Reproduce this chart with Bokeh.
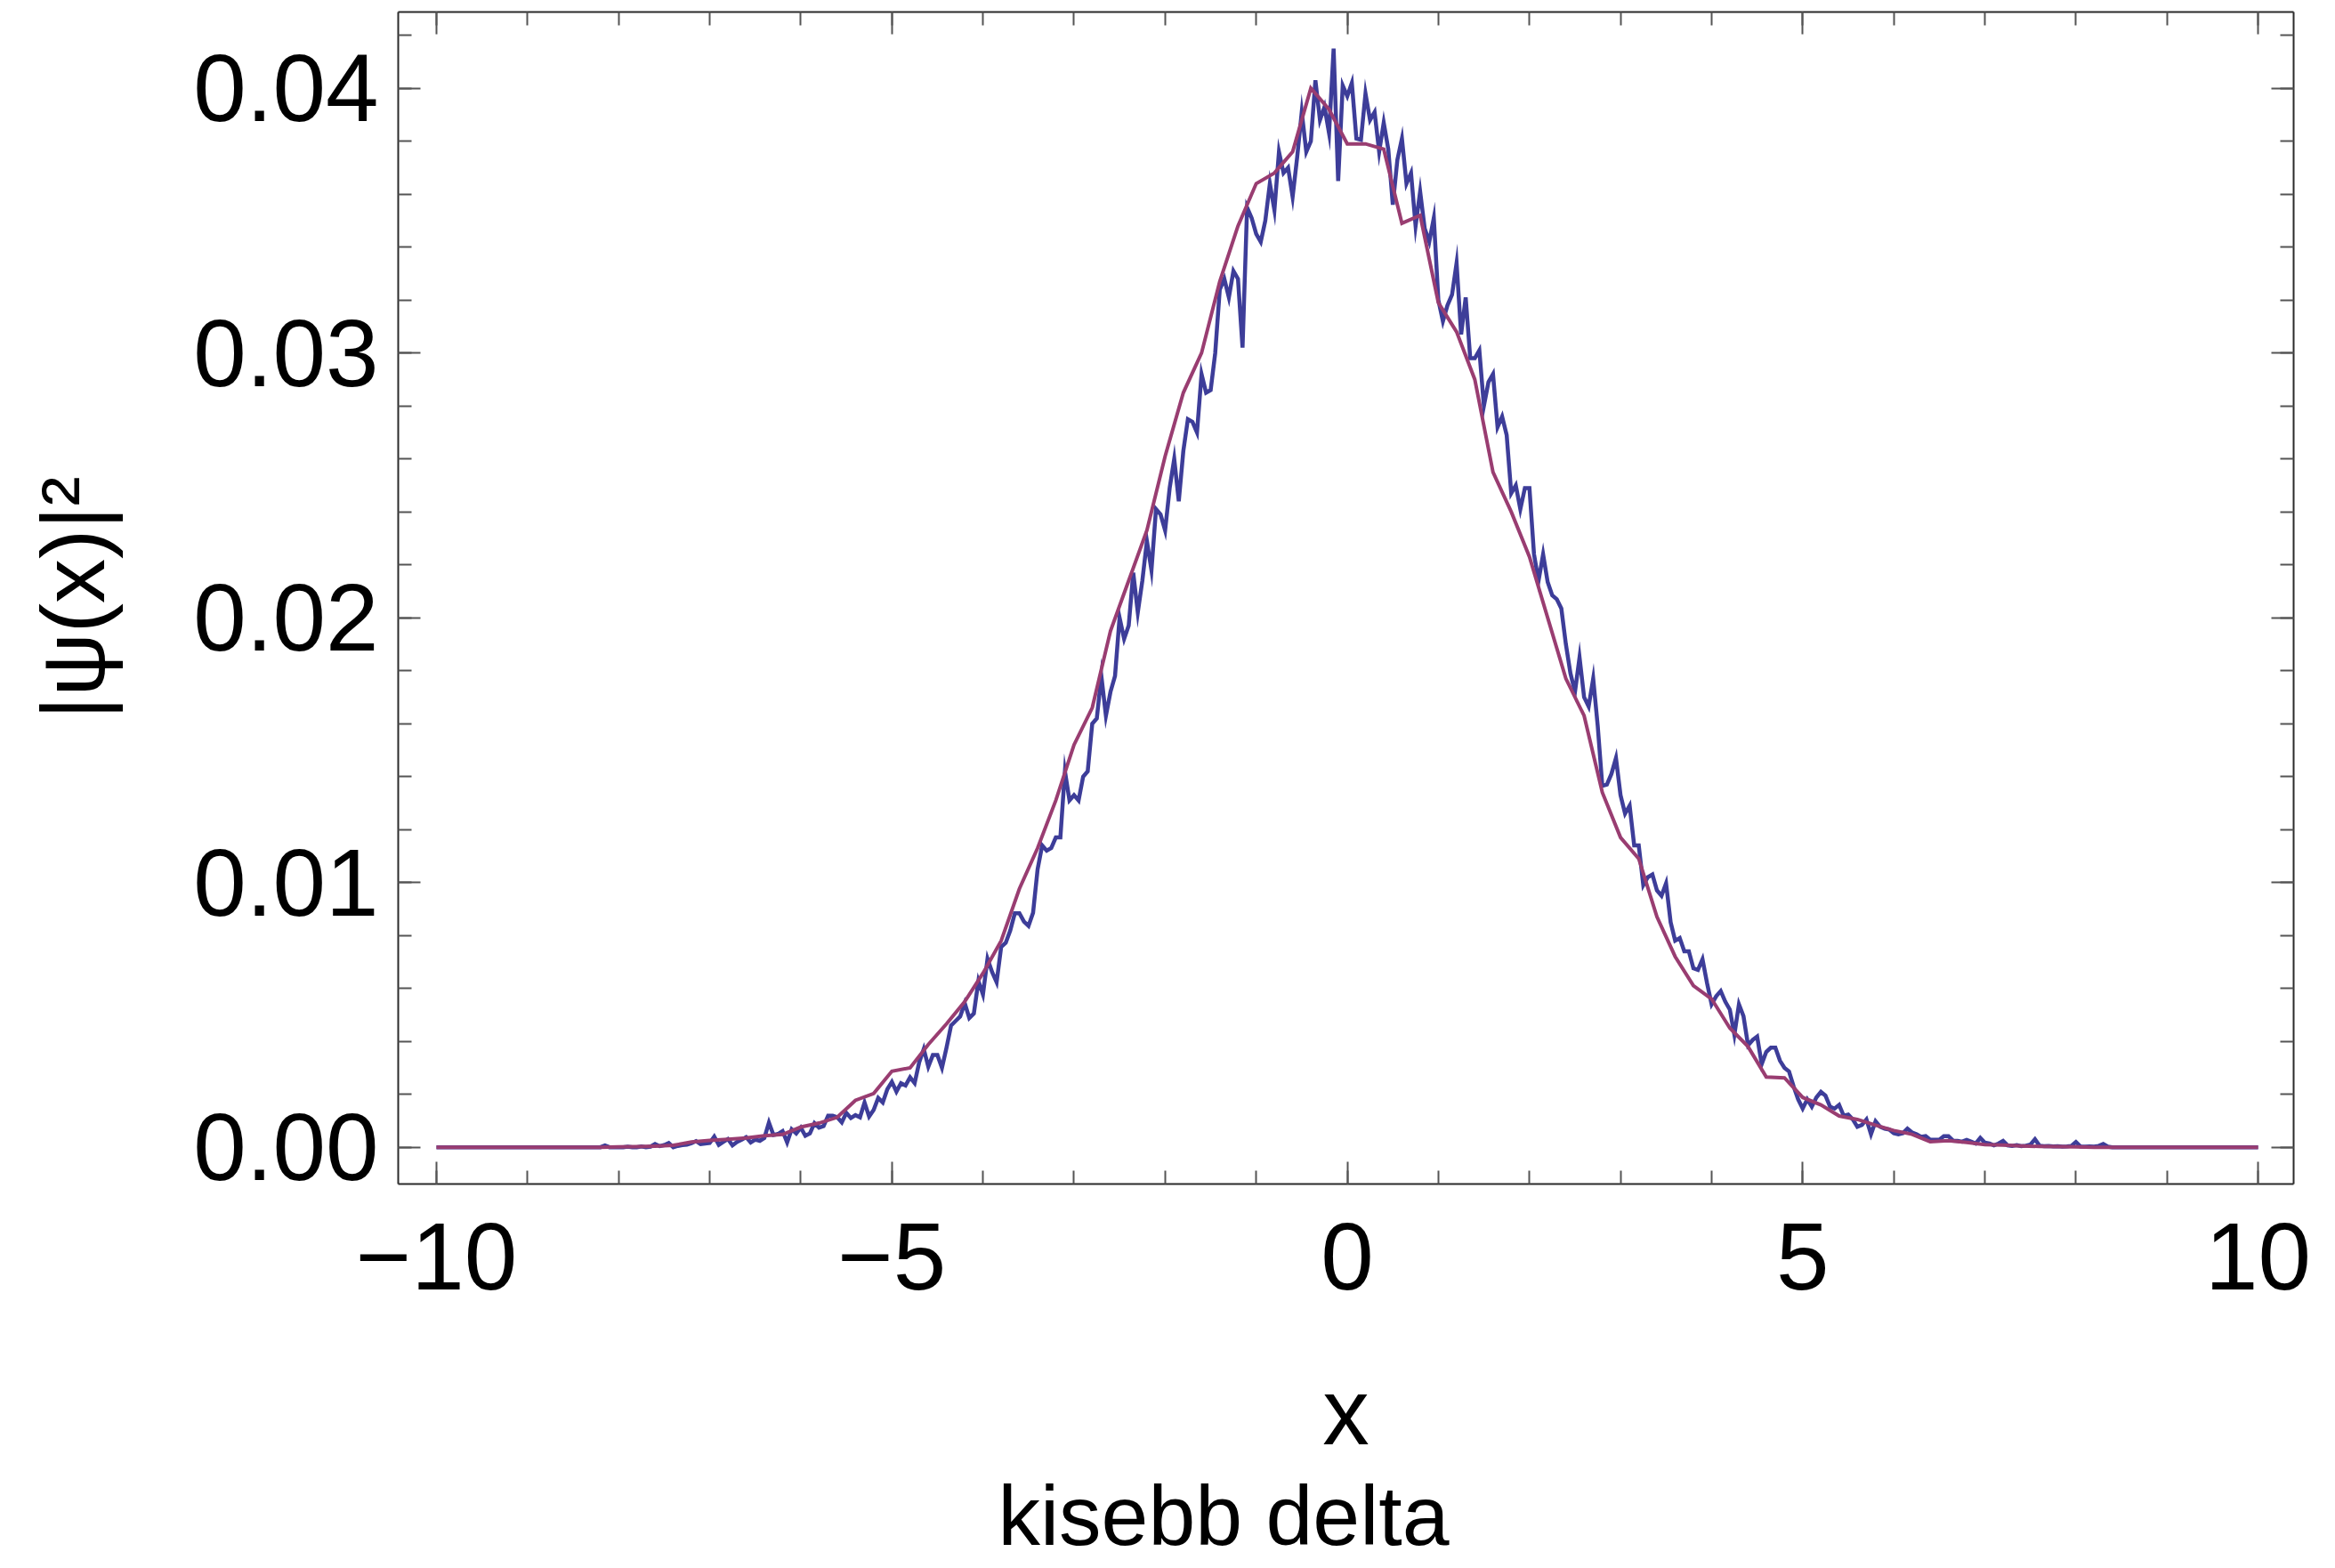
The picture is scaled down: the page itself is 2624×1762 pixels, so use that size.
from bokeh.plotting import figure
from bokeh.models import (Range1d, LinearAxis, FixedTicker, NumeralTickFormatter,
                          CustomJSTickFormatter, Title)
from bokeh.embed import file_html
from bokeh.resources import INLINE

# ---------------- data ----------------
# blue: sampled histogram-like curve, step 0.05 from -10 to 10 (values in units of 1e-3)
blue_x_start = -10.0
blue_x_step = 0.05
blue_e3 = [
    # -10.00 .. -9.05
    0, 0, 0, 0, 0, 0, 0, 0, 0, 0, 0, 0, 0, 0, 0, 0, 0, 0, 0, 0,
    # -9.00 .. -8.05
    0, 0, 0, 0, 0, 0, 0, 0, 0, 0, 0, 0, 0, 0, 0, 0, 0, 0.07, 0, 0,
    # -8.00 .. -7.05
    0, 0, 0.02, 0, 0, 0.03, 0, 0.02, 0.12, 0.04, 0.08, 0.16, 0.0, 0.05, 0.08, 0.10, 0.15, 0.23, 0.12, 0.14,
    # -7.00 .. -6.05
    0.16, 0.40, 0.09, 0.20, 0.31, 0.07, 0.20, 0.28, 0.38, 0.18, 0.29, 0.24, 0.35, 0.93, 0.46, 0.50, 0.61, 0.18, 0.68, 0.52,
    # -6.00 .. -5.05
    0.74, 0.43, 0.52, 0.91, 0.74, 0.80, 1.19, 1.19, 1.13, 0.94, 1.30, 1.10, 1.21, 1.13, 1.69, 1.16, 1.41, 1.86, 1.69, 2.19,
    # -5.00 .. -4.05
    2.47, 2.10, 2.42, 2.33, 2.64, 2.42, 3.21, 3.71, 3.04, 3.48, 3.48, 3.00, 3.76, 4.60, 4.77, 4.94, 5.44, 4.88, 5.05, 6.28,
    # -4.00 .. -3.05
    5.77, 7.12, 6.62, 6.23, 7.57, 7.72, 8.19, 8.84, 8.84, 8.52, 8.36, 8.85, 10.5, 11.4, 11.2, 11.3, 11.7, 11.7, 14.2, 13.1,
    # -3.00 .. -2.05
    13.3, 13.1, 14.0, 14.2, 16.0, 16.2, 17.8, 16.3, 17.2, 17.8, 20.0, 19.2, 19.7, 21.7, 20.2, 21.4, 22.9, 21.8, 24.1, 23.9,
    # -2.00 .. -1.05
    23.3, 24.9, 26.0, 24.4, 26.3, 27.5, 27.4, 27.0, 29.2, 28.5, 28.6, 30.0, 32.4, 32.8, 32.1, 33.1, 32.8, 30.2, 35.5, 35.1,
    # -1.00 .. -0.05
    34.5, 34.2, 35.0, 36.4, 35.4, 37.6, 36.8, 37.0, 35.9, 37.4, 39.1, 37.6, 38.0, 40.3, 38.8, 39.3, 38.3, 41.5, 36.5, 40.1,
    # 0.00 .. 0.95
    39.7, 40.2, 38.1, 38.05, 39.8, 38.8, 39.1, 37.6, 38.7, 37.7, 35.6, 37.3, 38.1, 36.4, 36.8, 34.8, 36.1, 34.7, 34.2, 35.1,
    # 1.00 .. 1.95
    32.0, 31.2, 31.8, 32.2, 33.4, 30.7, 32.1, 29.8, 29.8, 30.1, 28.0, 28.9, 29.2, 27.2, 27.6, 26.9, 24.7, 25.0, 24.1, 24.9,
    # 2.00 .. 2.95
    24.9, 22.4, 21.4, 22.4, 21.35, 20.85, 20.7, 20.35, 19.0, 17.9, 17.2, 18.5, 17.0, 16.65, 17.7, 15.9, 13.65, 13.7, 14.1, 14.7,
    # 3.00 .. 3.95
    13.3, 12.6, 12.9, 11.4, 11.4, 9.9, 10.2, 10.3, 9.7, 9.5, 9.97, 8.5, 7.8, 7.9, 7.4, 7.4, 6.76, 6.7, 7.1, 6.2,
    # 4.00 .. 4.95
    5.4, 5.7, 5.9, 5.5, 5.2, 4.25, 5.4, 4.95, 3.85, 4.05, 4.18, 3.14, 3.6, 3.76, 3.76, 3.27, 3.0, 2.86, 2.3, 1.81,
    # 5.00 .. 5.95
    1.46, 1.81, 1.53, 1.88, 2.09, 1.95, 1.53, 1.46, 1.6, 1.19, 1.23, 1.05, 0.77, 0.84, 1.05, 0.49, 0.98, 0.77, 0.70, 0.67,
    # 6.00 .. 6.95
    0.53, 0.49, 0.53, 0.70, 0.56, 0.49, 0.39, 0.42, 0.28, 0.28, 0.28, 0.42, 0.42, 0.25, 0.24, 0.21, 0.28, 0.21, 0.14, 0.35,
    # 7.00 .. 7.95
    0.17, 0.14, 0.07, 0.14, 0.24, 0.07, 0.05, 0.08, 0.04, 0.06, 0.10, 0.30, 0.06, 0.04, 0.05, 0.03, 0.04, 0.02, 0.03, 0.05,
    # 8.00 .. 8.95
    0.20, 0.03, 0.02, 0.03, 0.02, 0.05, 0.12, 0.02, 0, 0, 0, 0, 0, 0, 0, 0, 0, 0, 0, 0,
    # 9.00 .. 9.95
    0, 0, 0, 0, 0, 0, 0, 0, 0, 0, 0, 0, 0, 0, 0, 0, 0, 0, 0, 0,
    # 10.00
    0,
]

# red: smoother curve, step 0.2 from -10 to 10
red_x_start = -10.0
red_x_step = 0.2
red_y = [
    0, 0, 0, 0, 0, 0, 0, 0, 0, 0,                      # -10.0 .. -8.2
    0.00001, 0.00002, 0.00004, 0.00007, 0.00020,       # -8.0 .. -7.2
    0.00026, 0.00030, 0.00035, 0.00043, 0.00048,       # -7.0 .. -6.2
    0.00076, 0.00091, 0.00113, 0.00177, 0.00203,       # -6.0 .. -5.2
    0.00287, 0.00300, 0.00388, 0.00466, 0.00550,       # -5.0 .. -4.2
    0.00657, 0.00780, 0.00976, 0.0113, 0.0131,         # -4.0 .. -3.2
    0.0152, 0.0166, 0.0195, 0.0214, 0.0233,            # -3.0 .. -2.2
    0.0261, 0.0285, 0.0300, 0.0327, 0.0348,            # -2.0 .. -1.2
    0.0364, 0.0368, 0.0376, 0.0400, 0.0392,            # -1.0 .. -0.2
    0.0379, 0.0379, 0.0377, 0.0349, 0.0352,            # 0.0 .. 0.8
    0.0319, 0.0308, 0.0290, 0.0255, 0.0240,            # 1.0 .. 1.8
    0.0223, 0.0200, 0.0177, 0.0163, 0.0134,            # 2.0 .. 2.8
    0.0117, 0.0109, 0.0087, 0.0072, 0.0061,            # 3.0 .. 3.8
    0.0056, 0.0045, 0.0038, 0.00265, 0.00262,          # 4.0 .. 4.8
    0.00188, 0.00160, 0.00118, 0.00105, 0.00083,       # 5.0 .. 5.8
    0.00063, 0.00049, 0.00021, 0.00025, 0.00018,       # 6.0 .. 6.8
    0.00010, 0.00008, 0.00005, 0.00003, 0.00002,       # 7.0 .. 7.8
    0.00001,                                           # 8.0
    0, 0, 0, 0, 0, 0, 0, 0, 0, 0,                      # 8.2 .. 10.0
]

x_major = [-10, -5, 0, 5, 10]
x_minor = [-10, -9, -8, -7, -6, -5, -4, -3, -2, -1, 0, 1, 2, 3, 4, 5, 6, 7, 8, 9, 10]
y_major = [0.0, 0.01, 0.02, 0.03, 0.04]
y_minor = [0.0, 0.002, 0.004, 0.006, 0.008, 0.01, 0.012, 0.014, 0.016, 0.018, 0.02,
           0.022, 0.024, 0.026, 0.028, 0.03, 0.032, 0.034, 0.036, 0.038, 0.04, 0.042]

x_label = "x"
y_label = "|ψ(x)|²"
sub_label = "kisebb delta"

blue_x = [round(blue_x_start + i * blue_x_step, 2) for i in range(len(blue_e3))]
blue_y = [v / 1000.0 for v in blue_e3]
red_x = [round(red_x_start + i * red_x_step, 1) for i in range(len(red_y))]

# ---------------- figure ----------------
W, H = 2624, 1762
FL, FR, FT, FB = 447, 2577, 13, 1330   # frame edges in canvas pixels

p = figure(width=W, height=H, output_backend="svg", toolbar_location=None,
           x_range=Range1d(-10.42, 10.39), y_range=Range1d(-0.00139, 0.04288),
           x_axis_type=None, y_axis_type=None,
           min_border_left=FL, min_border_right=W - FR,
           min_border_top=FT, min_border_bottom=H - FB)
p.outline_line_color = None
p.background_fill_color = "white"
p.border_fill_color = "white"

FRAME_C = "#2b2b2b"
TICK_C = "#555555"
FONT = "Liberation Sans"


def style_axis(ax, show_labels):
    ax.axis_line_color = FRAME_C
    ax.axis_line_width = 2
    ax.major_tick_line_color = TICK_C
    ax.major_tick_line_width = 2
    ax.minor_tick_line_color = TICK_C
    ax.minor_tick_line_width = 2
    ax.major_tick_in = 25
    ax.major_tick_out = 0
    ax.minor_tick_in = 15
    ax.minor_tick_out = 0
    if show_labels:
        ax.major_label_text_font = FONT
        ax.major_label_text_font_size = "107px"
        ax.major_label_text_color = "black"
        ax.axis_label_text_font = FONT
        ax.axis_label_text_font_style = "normal"
        ax.axis_label_text_color = "black"
    else:
        ax.major_label_text_font_size = "1px"
        ax.major_label_text_color = None
        ax.major_label_standoff = 0
        ax.axis_label_standoff = 0


xfmt = CustomJSTickFormatter(code="return tick < 0 ? '\u2212' + Math.abs(tick) : String(tick);")

ax_b = LinearAxis(ticker=FixedTicker(ticks=x_major, minor_ticks=x_minor), formatter=xfmt)
style_axis(ax_b, True)
ax_b.major_label_standoff = 44
ax_b.axis_label = x_label
ax_b.axis_label_text_font_size = "105px"
ax_b.axis_label_standoff = 76
p.add_layout(ax_b, "below")

ax_t = LinearAxis(ticker=FixedTicker(ticks=x_major, minor_ticks=x_minor))
style_axis(ax_t, False)
p.add_layout(ax_t, "above")

ax_l = LinearAxis(ticker=FixedTicker(ticks=y_major, minor_ticks=y_minor),
                  formatter=NumeralTickFormatter(format="0.00"))
style_axis(ax_l, True)
ax_l.major_label_standoff = 22
ax_l.axis_label = y_label
ax_l.axis_label_text_font_size = "100px"
ax_l.axis_label_standoff = 76
p.add_layout(ax_l, "left")

ax_r = LinearAxis(ticker=FixedTicker(ticks=y_major, minor_ticks=y_minor))
style_axis(ax_r, False)
p.add_layout(ax_r, "right")

# sub caption below the x axis label
sub = Title(text=sub_label, align="left", offset=674, standoff=0, vertical_align="bottom",
            text_font=FONT, text_font_size="95px", text_font_style="normal",
            text_color="black")
p.add_layout(sub, "below")

# ---------------- data lines ----------------
p.line(blue_x, blue_y, line_color="#3D3D99", line_width=4.5, line_join="miter")
p.line(red_x, red_y, line_color="#993D71", line_width=4, line_join="miter")

open("out.html", "w").write(file_html(p, INLINE))
